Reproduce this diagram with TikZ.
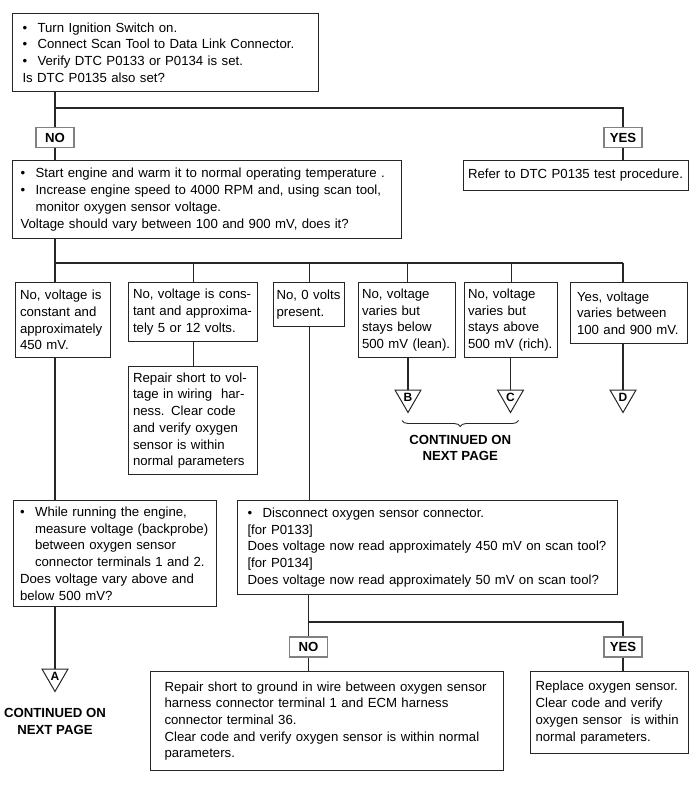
\documentclass[tikz,border=0pt]{standalone}
\usepackage{fontspec}
\setmainfont{Liberation Sans}
\usetikzlibrary{shapes.geometric,decorations.pathreplacing,positioning}
\tikzstyle{box}=[draw=black!85, line width=1.1pt, anchor=north west, align=left, inner xsep=5pt, inner ysep=6pt]
\tikzstyle{yn}=[draw=black!50, line width=1.2pt, fill=white, font=\bfseries, minimum width=38pt, minimum height=20pt, inner sep=2pt]
\tikzstyle{tri}=[draw=black!85, line width=1pt, regular polygon, regular polygon sides=3, shape border rotate=180, minimum size=30pt, inner sep=0pt, font=\fontsize{12}{12}\bfseries]
\tikzstyle{wire}=[draw=black!85, line width=1.1pt]
\tikzstyle{cont}=[font=\bfseries, align=center, inner sep=0pt]
\newcommand{\bul}{\makebox[15pt][l]{\textbullet}}
\newcommand{\hang}{\hspace*{15pt}}

\begin{document}
\fontsize{13.2}{16.7}\selectfont
\begin{tikzpicture}[x=1pt, y=-1pt]
\useasboundingbox (0, 0) rectangle (700, 799);

\draw (12, 13) node [box, text width=286pt, inner xsep=10pt, minimum height=78pt] (top) {\bul Turn Ignition Switch on.\\\bul Connect Scan Tool to Data Link Connector.\\\bul Verify DTC P0133 or P0134 is set.\\Is DTC P0135 also set?};
\draw (55, 137.5) node [yn] (no1) {NO};
\draw (623, 137.5) node [yn] (yes1) {YES};
\draw (12, 160) node [box, text width=373pt, inner xsep=8pt, minimum height=78pt] (main) {\bul Start engine and warm it to normal operating temperature .\\\bul Increase engine speed to 4000 RPM and, using scan tool,\\\hang monitor oxygen sensor voltage.\\Voltage should vary between 100 and 900 mV, does it?};
\draw (463, 160) node [box, text width=216pt, inner xsep=4.5pt, minimum height=30pt] (refer) {Refer to DTC P0135 test procedure.};

\draw (15, 282) node [box, text width=86pt, inner xsep=4.5pt, minimum height=75pt] (vconst) {No, voltage is\\constant and\\approximately\\450 mV.};
\draw (128, 282) node [box, text width=120pt, inner xsep=4.5pt, minimum height=59pt] (vhigh) {No, voltage is cons-\\tant and approxima-\\tely 5 or 12 volts.};
\draw (273, 282) node [box, text width=65pt, inner xsep=3pt, minimum height=44pt] (vzero) {No, 0 volts\\present.};
\draw (358, 282) node [box, text width=90pt, inner xsep=3.5pt, minimum height=75pt] (vlean) {No, voltage\\varies but\\stays below\\500 mV (lean).};
\draw (464, 282) node [box, text width=86pt, inner xsep=3.5pt, minimum height=75pt] (vrich) {No, voltage\\varies but\\stays above\\500 mV (rich).};
\draw (570, 282) node [box, text width=104pt, inner xsep=6.5pt, minimum height=61pt] (vok) {Yes, voltage\\varies between\\100 and 900 mV.};

\draw (408, 397.5) node [tri] (ptB) {B};
\draw (510.5, 397.5) node [tri] (ptC) {C};
\draw (623, 397.5) node [tri] (ptD) {D};

\draw (128, 366) node [box, text width=120pt, inner xsep=4.5pt, minimum height=108pt] (fixv) {Repair short to vol-\\tage in wiring\ \ har-\\ness. Clear code\\and verify oxygen\\sensor is within\\normal parameters};

\draw (13, 500) node [box, text width=190pt, inner xsep=6.5pt, minimum height=106pt] (probe) {\bul While running the engine,\\\hang measure voltage (backprobe)\\\hang between oxygen sensor\\\hang connector terminals 1 and 2.\\Does voltage vary above and\\below 500 mV?};
\draw (237, 500) node [box, text width=360pt, inner xsep=10pt, minimum height=94pt] (disc) {\bul Disconnect oxygen sensor connector.\\\relax[for P0133]\\Does voltage now read approximately 450 mV on scan tool?\\\relax[for P0134]\\Does voltage now read approximately 50 mV on scan tool?};

\draw (55, 676.5) node [tri] (ptA) {A};
\node [cont, below=16pt of ptA.south] (contA) {CONTINUED ON\\NEXT PAGE};

\draw (308.5, 647) node [yn] (no2) {NO};
\draw (623, 647) node [yn] (yes2) {YES};
\draw (150, 671) node [box, text width=325pt, inner xsep=14pt, minimum height=99pt] (fixg) {Repair short to ground in wire between oxygen sensor\\harness connector terminal 1 and ECM harness\\connector terminal 36.\\Clear code and verify oxygen sensor is within normal\\parameters.};
\draw (530, 671) node [box, text width=148pt, minimum height=82pt] (swap) {Replace oxygen sensor.\\Clear code and verify\\oxygen sensor\ \ is within\\normal parameters.};

\coordinate (jA) at (55, 108);
\coordinate (jB) at (55, 263);
\coordinate (jC) at (308.5, 622);

\draw [wire] (top.south -| jA) -- (no1.north);
\draw [wire] (jA) -| (yes1.north);
\draw [wire] (no1.south) -- (main.north -| no1);
\draw [wire] (yes1.south) -- (refer.north -| yes1);

\draw [wire] (main.south -| jB) -- (jB) -- (jB -| ptD);
\draw [wire] (jB) -- (vconst.north -| jB);
\draw [wire] (jB -| vhigh.north) -- (vhigh.north);
\draw [wire] (jB -| vzero.north) -- (vzero.north);
\draw [wire] (jB -| vlean.north) -- (vlean.north);
\draw [wire] (jB -| vrich.north) -- (vrich.north);
\draw [wire] (jB -| ptD) -- (vok.north -| ptD);
\draw [wire] (vlean.south -| ptB) -- (ptB.north);
\draw [wire] (vrich.south -| ptC) -- (ptC.north);
\draw [wire] (vok.south -| ptD) -- (ptD.north);
\draw [wire, line width=0.9pt, decorate, decoration={brace, mirror, amplitude=6pt}] ([xshift=-6pt, yshift=-7pt]ptB.south) -- node [cont, below=14pt] (contBC) {CONTINUED ON\\NEXT PAGE} ([xshift=8pt, yshift=-7pt]ptC.south);

\draw [wire] (vhigh.south) -- (fixv.north);
\draw [wire] (vzero.south) -- (disc.north -| vzero);
\draw [wire] (vconst.south -| jB) -- (probe.north -| jB);
\draw [wire] (probe.south -| ptA) -- (ptA.north);

\draw [wire] (disc.south -| jC) -- (no2.north);
\draw [wire] (jC) -| (yes2.north);
\draw [wire] (no2.south) -- (fixg.north -| no2);
\draw [wire] (yes2.south) -- (swap.north -| yes2);

\end{tikzpicture}
\end{document}
